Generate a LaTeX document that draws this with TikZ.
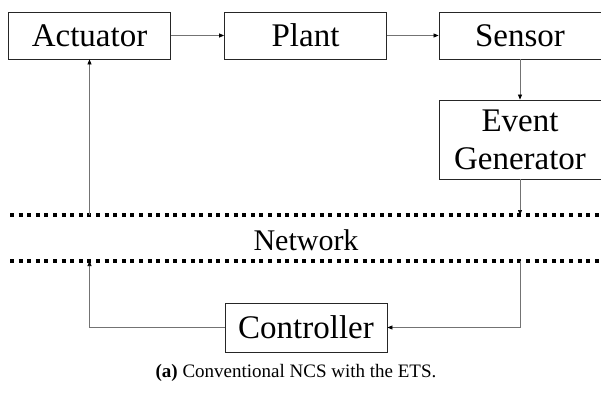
\documentclass[tikz,border=0pt]{standalone}
\usepackage{fontspec}
\setmainfont{Liberation Serif}
\usetikzlibrary{arrows.meta}

\begin{document}
\begin{tikzpicture}[x=1pt, y=-1pt,
    blk/.style={draw=black!85, line width=0.8pt, minimum width=162pt, minimum height=47pt,
                inner sep=0pt, align=center, font=\fontsize{33}{38}\selectfont},
    link/.style={draw=black!55, line width=0.7pt},
    tip/.style={-{Triangle[black,length=5pt,width=4pt]}},
    bus/.style={line width=4pt, dash pattern=on 4pt off 4.6pt}
]
    \useasboundingbox (0,0) rectangle (601,402);

    % forward path
    \node[blk] (act) at (89.5,35.5) {Actuator};
    \node[blk] (plant) at (305.5,35.5) {Plant};
    \node[blk] (sens) at (520,35.5) {Sensor};
    \node[blk, minimum height=79pt] (evt) at (520,139.5) {Event\\Generator};

    % network band
    \coordinate (busTopL) at (10,215);
    \coordinate (busTopR) at (601,215);
    \coordinate (busBotL) at (10,261);
    \coordinate (busBotR) at (601,261);
    \draw[bus] (busTopL) -- (busTopR);
    \draw[bus] (busBotL) -- (busBotR);
    \node[font=\fontsize{30}{34}\selectfont] (net) at (306,240) {Network};

    \node[blk, minimum height=49pt] (ctrl) at (306,327.5) {Controller};

    % taps on the network
    \coordinate (actIn) at (act.south |- busTopL);
    \coordinate (evtOut) at (evt.south |- busTopL);
    \coordinate (ctrlIn) at (evt.south |- busBotL);
    \coordinate (ctrlOut) at (act.south |- busBotL);

    \draw[link, tip] (act) -- (plant);
    \draw[link, tip] (plant) -- (sens);
    \draw[link, tip] (sens) -- (evt);
    \draw[link, tip] (evt) -- (evtOut);
    \draw[link, tip] (actIn) -- (act);
    \draw[link, tip] (ctrlIn) |- (ctrl);
    \draw[link, tip] (ctrl) -| (ctrlOut);

    \node[font=\fontsize{19}{22}\selectfont] (cap) at (296,373)
        {\textbf{(a)} Conventional NCS with the ETS.};
\end{tikzpicture}
\end{document}
